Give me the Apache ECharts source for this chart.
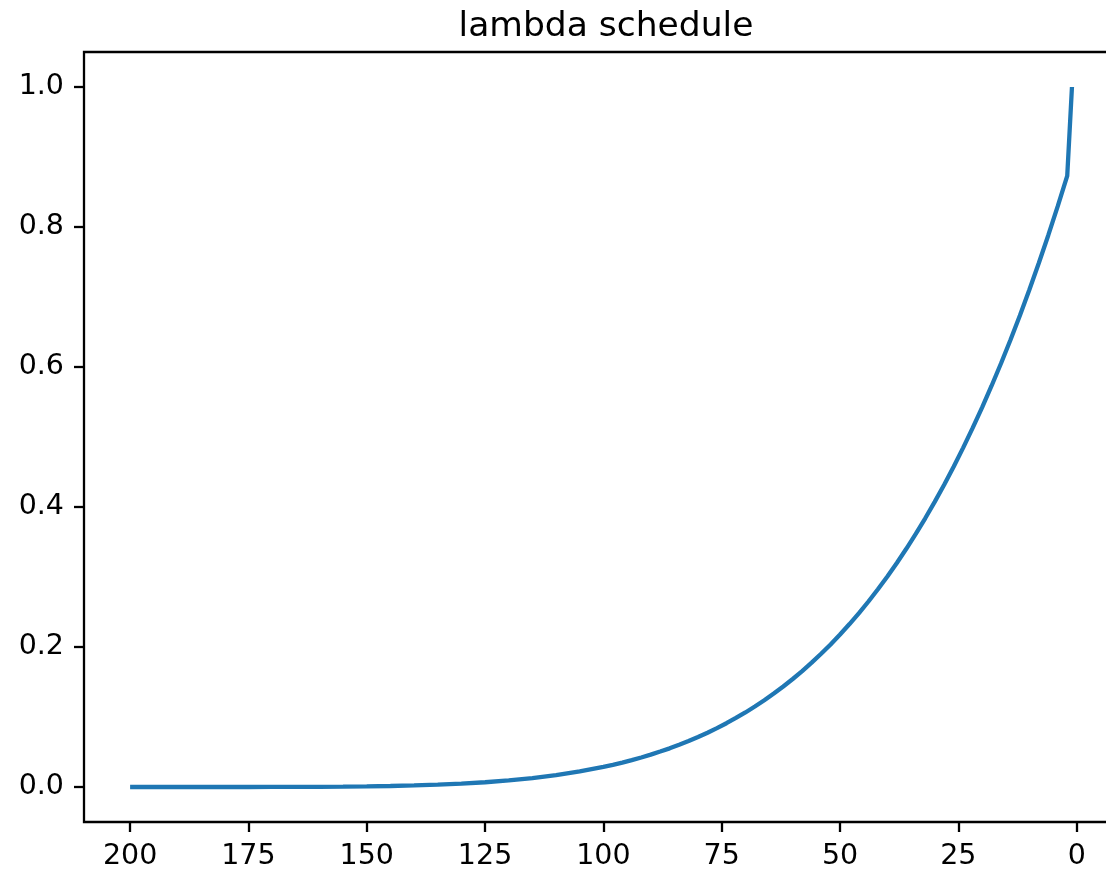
<!DOCTYPE html>
<html>
<head>
<meta charset="utf-8">
<title>lambda schedule</title>
<script src="https://cdn.jsdelivr.net/npm/echarts@6/dist/echarts.min.js"></script>
<style>
  html, body { margin: 0; padding: 0; background: #fff; }
  #chart { width: 1106px; height: 871px; }
</style>
</head>
<body>
<div id="chart"></div>
<script>
// Timesteps (plotted on a reversed axis) and the lambda value at each one
const steps = [200, 195, 190, 185, 180, 175, 170, 165, 160, 155, 150, 145, 140, 135, 130,
  125, 120, 115, 110, 105, 100,
  98, 96, 94, 92, 90, 88, 86, 84, 82, 80, 78, 76, 74, 72, 70, 68, 66, 64, 62, 60,
  58, 56, 54, 52, 50, 48, 46, 44, 42, 40, 38, 36, 34, 32, 30, 28, 26, 24, 22, 20,
  18, 16, 14, 12, 10, 8, 6, 4, 2, 1];
const lambdaValues = [0, 0, 0, 0.000002, 0.00001, 0.00003, 0.00007, 0.00015, 0.0003, 0.0005,
  0.0009, 0.0014, 0.0022, 0.0033, 0.0048, 0.0068, 0.0094, 0.0127, 0.0169, 0.0222, 0.0287,
  0.0317, 0.0349, 0.0384, 0.0422, 0.0462, 0.0506, 0.0552, 0.0603, 0.0656, 0.0714,
  0.0775, 0.0841, 0.0911, 0.0986, 0.1065, 0.1150, 0.1239, 0.1335, 0.1436, 0.1543,
  0.1656, 0.1776, 0.1903, 0.2037, 0.2178, 0.2328, 0.2485, 0.2650, 0.2825, 0.3008,
  0.3201, 0.3403, 0.3616, 0.3839, 0.4073, 0.4319, 0.4576, 0.4845, 0.5126, 0.5421,
  0.5729, 0.6050, 0.6386, 0.6737, 0.7103, 0.7485, 0.7883, 0.8298, 0.873, 1.0];

// Tick positions
const xTicks = [0, 25, 50, 75, 100, 125, 150, 175, 200];
const yTicks = [0, 0.2, 0.4, 0.6, 0.8, 1.0];

const points = steps.map((s, i) => [s, lambdaValues[i]]);

const FONT = 'DejaVu Sans';
const INK = '#000000';

const chart = echarts.init(document.getElementById('chart'), null, { renderer: 'canvas' });
chart.setOption({
  animation: false,
  backgroundColor: '#ffffff',
  title: {
    text: 'lambda schedule',
    left: 601,
    top: 5,
    textAlign: 'center',
    textStyle: { fontFamily: FONT, fontSize: 34.5, fontWeight: 'normal', color: INK }
  },
  grid: {
    left: 84,
    top: 52,
    width: 1036,
    height: 770,
    outerBoundsMode: 'none',
    containLabel: false,
    show: true,
    borderColor: INK,
    borderWidth: 2.3,
    backgroundColor: 'transparent'
  },
  xAxis: {
    type: 'value',
    inverse: true,
    min: -9.15,
    max: 209.74,
    splitLine: { show: false },
    axisLine: { show: false, onZero: false },
    axisTick: {
      show: true, inside: false, length: 10,
      customValues: xTicks,
      lineStyle: { color: INK, width: 2.3 }
    },
    axisLabel: {
      customValues: xTicks,
      margin: 20,
      fontFamily: FONT, fontSize: 28.5, color: INK
    }
  },
  yAxis: {
    type: 'value',
    min: -0.05,
    max: 1.05,
    splitLine: { show: false },
    axisLine: { show: false, onZero: false },
    axisTick: {
      show: true, inside: false, length: 10,
      customValues: yTicks,
      lineStyle: { color: INK, width: 2.3 }
    },
    axisLabel: {
      customValues: yTicks,
      margin: 20,
      formatter: v => v.toFixed(1),
      fontFamily: FONT, fontSize: 28.5, color: INK
    }
  },
  series: [{
    type: 'line',
    data: points,
    showSymbol: false,
    smooth: false,
    lineStyle: { color: '#1f77b4', width: 4.3 },
    itemStyle: { color: '#1f77b4' }
  }]
});
</script>
</body>
</html>
